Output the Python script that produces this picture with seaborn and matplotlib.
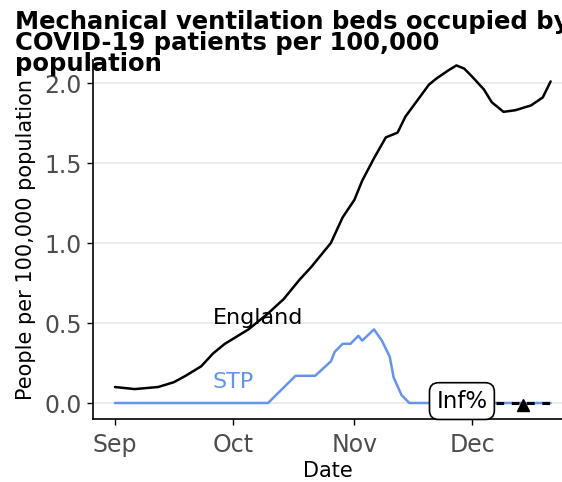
import matplotlib
matplotlib.use("Agg")
from matplotlib import pyplot as plt
import matplotlib.dates as mdates
import seaborn as sns
import pandas as pd

# England, people per 100,000
england_dates = ["2020-09-01", "2020-09-06", "2020-09-12", "2020-09-16", "2020-09-19",
                 "2020-09-23", "2020-09-26", "2020-09-29", "2020-10-05", "2020-10-10",
                 "2020-10-14", "2020-10-18", "2020-10-21", "2020-10-26", "2020-10-29",
                 "2020-11-01", "2020-11-03", "2020-11-06", "2020-11-09", "2020-11-12",
                 "2020-11-14", "2020-11-17", "2020-11-20", "2020-11-22", "2020-11-25",
                 "2020-11-27", "2020-11-29", "2020-12-01", "2020-12-04", "2020-12-06",
                 "2020-12-09", "2020-12-12", "2020-12-16", "2020-12-19", "2020-12-21"]
england_vals = [0.10, 0.087, 0.10, 0.13, 0.17,
                0.23, 0.31, 0.37, 0.46, 0.56,
                0.65, 0.77, 0.85, 1.00, 1.16,
                1.27, 1.39, 1.53, 1.66, 1.69,
                1.79, 1.89, 1.99, 2.03, 2.08,
                2.11, 2.09, 2.04, 1.96, 1.88,
                1.82, 1.83, 1.86, 1.91, 2.01]

# STP, people per 100,000
stp_dates = ["2020-09-01", "2020-10-10", "2020-10-17", "2020-10-22", "2020-10-26",
             "2020-10-27", "2020-10-29", "2020-10-31", "2020-11-02", "2020-11-03",
             "2020-11-06", "2020-11-08", "2020-11-10", "2020-11-11", "2020-11-13",
             "2020-11-15", "2020-12-21"]
stp_vals = [0.0, 0.0, 0.17, 0.17, 0.26,
            0.32, 0.37, 0.37, 0.42, 0.39,
            0.46, 0.39, 0.29, 0.16, 0.05,
            0.0, 0.0]

change_label = "Inf%"
trend_dates = ["2020-12-07", "2020-12-21"]
trend_vals = [0.0, 0.0]
marker_date = "2020-12-14"

df = pd.concat([
    pd.DataFrame({"date": pd.to_datetime(england_dates), "value": england_vals, "area": "England"}),
    pd.DataFrame({"date": pd.to_datetime(stp_dates), "value": stp_vals, "area": "STP"}),
])

sns.set_theme(style="white")
plt.rcParams["font.family"] = ["DejaVu Sans"]
plt.rcParams["text.color"] = "black"

fig = plt.figure(figsize=(5.62, 4.82), dpi=100)
ax = fig.add_axes([93 / 562, 63 / 482, (562 - 93) / 562, 359 / 482])

sns.lineplot(data=df, x="date", y="value", hue="area",
             palette={"England": "black", "STP": "#6495ED"},
             linewidth=1.8, legend=False, ax=ax)

tdf = pd.DataFrame({"date": pd.to_datetime(trend_dates), "value": trend_vals})
sns.lineplot(data=tdf, x="date", y="value", color="black", linewidth=2.2,
             linestyle=(0, (2.5, 2.5)), ax=ax)
ax.plot(pd.Timestamp(marker_date), -0.01, marker="^", color="black", markersize=8)

start = pd.Timestamp("2020-09-01")
ax.set_xlim(start - pd.Timedelta(days=5.6), start + pd.Timedelta(days=113.9))
ax.set_ylim(-0.1, 2.144)
ax.set_yticks([0.0, 0.5, 1.0, 1.5, 2.0])
ax.xaxis.set_major_locator(mdates.MonthLocator())
ax.xaxis.set_major_formatter(mdates.DateFormatter("%b"))

ax.grid(axis="y", color="#EBEBEB", linewidth=1.3)
ax.set_axisbelow(True)
for s in ["top", "right"]:
    ax.spines[s].set_visible(False)
for s in ["left", "bottom"]:
    ax.spines[s].set_color("black")
    ax.spines[s].set_linewidth(1.2)

ax.tick_params(axis="both", which="major", direction="out", length=4, width=1,
               color="black", labelcolor="#4D4D4D", labelsize=17, pad=4,
               bottom=True, left=True)
ax.tick_params(axis="x", pad=6)

ax.set_xlabel("Date", fontsize=15, color="black", labelpad=3)
ax.set_ylabel("People per 100,000 population", fontsize=15, color="black", labelpad=6)

ax.text(start + pd.Timedelta(days=36.5), 0.53, "England", fontsize=16, color="black",
        ha="center", va="center")
ax.text(start + pd.Timedelta(days=30), 0.13, "STP", fontsize=16, color="#6495ED",
        ha="center", va="center")
ax.text(start + pd.Timedelta(days=88.4), 0.012, change_label, fontsize=16.5, color="black",
        ha="center", va="center",
        bbox=dict(boxstyle="round,pad=0.3,rounding_size=0.4", facecolor="white",
                  edgecolor="black", linewidth=1.2))

fig.text(15 / 562, 1 - 10 / 482,
         "Mechanical ventilation beds occupied by\nCOVID-19 patients per 100,000\npopulation",
         fontsize=17.5, fontweight="bold", color="black", va="top", ha="left",
         linespacing=0.85)

fig.savefig("out.png", dpi=100)
